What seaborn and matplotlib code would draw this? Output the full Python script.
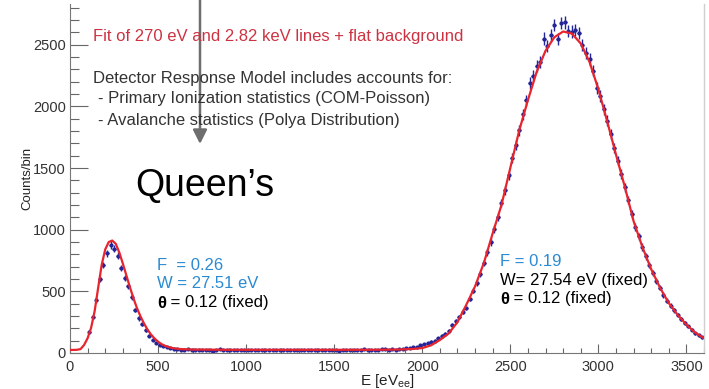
import numpy as np
import matplotlib
matplotlib.use("Agg")
import matplotlib.pyplot as plt
import seaborn as sns

# ---------------- data ----------------
bin_width = 20  # eV
low_peak_start = 110
low_peak_counts = [170, 290, 430, 600, 715, 810, 875, 845, 790, 690,
                   610, 540, 455, 350, 280, 238, 185, 140, 108, 82,
                   66, 55, 46, 40, 35]
background_start = 610
background_counts = [31, 28, 27, 30, 25, 24, 28, 26, 22, 27,
                     20, 25, 29, 24, 23, 26, 28, 25, 22, 27,
                     24, 26, 21, 25, 28, 23, 27, 24, 21, 26,
                     22, 25, 28, 24, 22, 27, 25, 23, 26, 24,
                     21, 27, 25, 28, 24, 26, 20, 23, 27, 25,
                     22, 28, 24, 30, 26, 23, 27, 25, 29, 32,
                     27, 30, 28, 34, 36]
high_peak_start = 1910
high_peak_counts = [38, 40, 45, 52, 62, 70, 82, 92, 100, 118,
                    140, 155, 180, 225, 262, 290, 335, 365, 440, 505,
                    570, 640, 730, 815, 900, 1005, 1100, 1215, 1320, 1440,
                    1580, 1690, 1805, 1935, 2050, 2190, 2250, 2330, 2360, 2550,
                    2490, 2580, 2660, 2545, 2675, 2680, 2610, 2605, 2620, 2595,
                    2500, 2430, 2380, 2290, 2150, 2085, 1975, 1885, 1775, 1665,
                    1560, 1450, 1345, 1240, 1125, 1020, 945, 860, 785, 715,
                    650, 585, 530, 470, 425, 385, 345, 310, 275, 245,
                    215, 190, 160, 145, 128]

fit_energy = [0, 20, 40, 60, 80, 100, 120, 140, 160, 180, 200, 220, 240, 260,
              280, 300, 320, 340, 360, 380, 400, 420, 440, 460, 480, 500, 520,
              540, 560, 580, 600, 620, 640, 660, 680, 700, 800, 900, 1000,
              1100, 1200, 1300, 1400, 1500, 1600, 1700, 1800, 1850, 1900,
              1950, 2000, 2050, 2100, 2150, 2200, 2250, 2300, 2350, 2400,
              2450, 2500, 2550, 2600, 2650, 2700, 2750, 2800, 2850, 2900,
              2950, 3000, 3050, 3100, 3150, 3200, 3250, 3300, 3350, 3400,
              3450, 3500, 3550, 3600]
fit_counts = [25, 25, 26, 32, 65, 120, 205, 340, 530, 715, 840, 900, 912, 885,
              815, 725, 630, 535, 445, 365, 298, 240, 190, 150, 118, 92, 72,
              58, 48, 41, 36, 33, 31, 30, 29, 28, 27, 26, 26,
              26, 26, 26, 26, 26, 26, 26, 27, 28, 30,
              33, 40, 62, 105, 158, 250, 390, 540, 730, 970,
              1200, 1500, 1800, 2050, 2280, 2450, 2560, 2607, 2590, 2510,
              2360, 2140, 1880, 1610, 1350, 1070, 860, 680, 530, 405,
              310, 230, 165, 120]

x_ticks = [0, 500, 1000, 1500, 2000, 2500, 3000, 3500]
y_ticks = [0, 500, 1000, 1500, 2000, 2500]

# ---------------- style ----------------
sns.set_theme(style="white")
plt.rcParams["font.family"] = ["Liberation Sans", "DejaVu Sans"]
plt.rcParams["mathtext.fontset"] = "custom"
plt.rcParams["mathtext.rm"] = "Liberation Sans"
plt.rcParams["mathtext.it"] = "Liberation Sans:italic"

W, H = 709, 389
fig = plt.figure(figsize=(W / 100, H / 100), dpi=100)
ax = fig.add_axes([70 / W, 36 / H, 634 / W, 349 / H])


def fx(px):
    return px / W


def fy(py):
    return 1 - py / H


data_x = np.concatenate([
    low_peak_start + bin_width * np.arange(len(low_peak_counts)),
    background_start + bin_width * np.arange(len(background_counts)),
    high_peak_start + bin_width * np.arange(len(high_peak_counts)),
])
data_y = np.array(low_peak_counts + background_counts + high_peak_counts, dtype=float)

ax.errorbar(data_x, data_y, yerr=np.sqrt(data_y), xerr=bin_width / 2,
            fmt="o", ms=2.0, color="#25259a", ecolor="#25259a",
            elinewidth=1.0, capsize=0, zorder=2)
sns.lineplot(x=fit_energy, y=fit_counts, ax=ax, color="#e8242c",
             linewidth=1.6, zorder=3)

ax.set_xlim(0, 3600)
ax.set_ylim(0, 2830)
ax.set_xticks(x_ticks)
ax.set_yticks(y_ticks)
ax.set_xticks(np.arange(0, 3601, 100), minor=True)
ax.set_yticks(np.arange(0, 2801, 100), minor=True)
ax.tick_params(axis="both", which="both", direction="in", colors="#666666",
               labelcolor="#333333", labelsize=10.5, width=0.8,
               bottom=True, left=True, top=False, right=False)
ax.tick_params(axis="y", which="major", length=13, pad=3)
ax.tick_params(axis="y", which="minor", length=6.5)
ax.tick_params(axis="x", which="major", length=6.5, pad=5)
ax.tick_params(axis="x", which="minor", length=3.6)

for s in ["left", "bottom"]:
    ax.spines[s].set_color("#777777")
    ax.spines[s].set_linewidth(0.8)
ax.spines["top"].set_visible(False)
ax.spines["right"].set_color("#cfcfcf")
ax.spines["right"].set_linewidth(1.0)

ax.set_xlabel("E [eV$_{\\mathrm{ee}}$]", fontsize=11, color="#222222")
ax.xaxis.set_label_coords(0.5, -0.054)
ax.set_ylabel("Counts/bin", fontsize=9.5, color="#222222")
ax.yaxis.set_label_coords(-0.058, 0.5)

# ---------------- annotations ----------------
fs_note = 12
fig.text(fx(93), fy(37), "Fit of 270 eV and 2.82 keV lines + flat background",
         color="#cc3342", fontsize=fs_note, va="center", ha="left")
fig.text(fx(93), fy(78), "Detector Response Model includes accounts for:",
         color="#333333", fontsize=fs_note, va="center", ha="left")
fig.text(fx(98), fy(99), "- Primary Ionization statistics (COM-Poisson)",
         color="#333333", fontsize=fs_note, va="center", ha="left")
fig.text(fx(98), fy(120), "- Avalanche statistics (Polya Distribution)",
         color="#333333", fontsize=fs_note, va="center", ha="left")
fig.text(fx(135), fy(196), "Queen\u2019s", color="black", fontsize=27,
         va="baseline", ha="left")

blue = "#2a8ad2"
fs = 12
fig.text(fx(157), fy(265), "F  = 0.26", color=blue, fontsize=fs, va="center")
fig.text(fx(157), fy(284), "W = 27.51 eV", color=blue, fontsize=fs, va="center")
t1 = fig.text(fx(157), fy(303), "\u03b8", color="black", fontsize=fs,
              fontweight="bold", va="center")
ax.annotate(" = 0.12 (fixed)", xy=(1, 0), xycoords=t1, va="bottom",
            fontsize=fs, color="black")

fig.text(fx(500), fy(261), "F = 0.19", color=blue, fontsize=fs, va="center")
fig.text(fx(500), fy(280), "W= 27.54 eV (fixed)", color="black", fontsize=fs,
         va="center")
t2 = fig.text(fx(500), fy(299), "\u03b8", color="black", fontsize=fs,
              fontweight="bold", va="center")
ax.annotate(" = 0.12 (fixed)", xy=(1, 0), xycoords=t2, va="bottom",
            fontsize=fs, color="black")

# grey arrow from the top of the slide
ax.annotate("", xy=(200, H - 144), xycoords="figure pixels",
            xytext=(200, H + 2), textcoords="figure pixels",
            arrowprops=dict(arrowstyle="-|>,head_length=0.6,head_width=0.3",
                            color="#6e6e6e", lw=1.8, mutation_scale=14,
                            shrinkA=0, shrinkB=0),
            annotation_clip=False, zorder=10)

fig.savefig("out.png", dpi=100)
